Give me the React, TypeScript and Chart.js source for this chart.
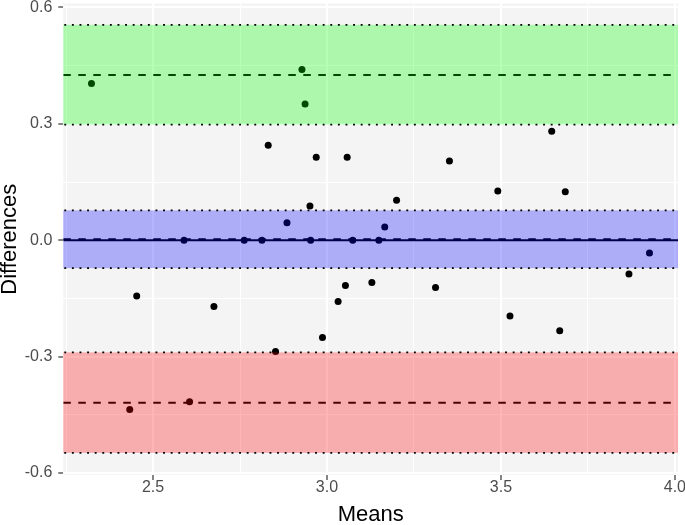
import React, { useEffect, useRef } from "react";
import { Chart, registerables } from "chart.js";

Chart.register(...registerables);

// ---- data ----
const MEANS = [
  2.323, 2.928, 2.937, 2.453, 2.589, 2.675, 2.762, 2.813, 2.831, 2.885, 2.852,
  2.951, 2.953, 2.969, 2.987, 3.032, 3.053, 3.058, 3.074, 3.129, 3.149, 3.166,
  3.2, 3.312, 3.352, 3.491, 3.526, 3.646, 3.669, 3.685, 3.868, 3.927, 2.433,
  2.605,
];
const DIFFERENCES = [
  0.404, 0.44, 0.351, -0.144, 0, -0.171, 0, 0, 0.245, 0.045, -0.287, 0.088, 0,
  0.214, -0.251, -0.158, -0.117, 0.214, 0, -0.109, 0, 0.034, 0.103, -0.122,
  0.204, 0.127, -0.195, 0.281, -0.233, 0.125, -0.087, -0.033, -0.436, -0.416,
];

// bias and limits of agreement (dashed), zero reference (solid)
const DASHED_LINES = [0.4255, 0.0025, -0.419];
const ZERO_LINE = 0;
// confidence bands: upper LoA, mean, lower LoA
const CI_LOWER = [0.298, -0.072, -0.548];
const CI_UPPER = [0.555, 0.077, -0.289];

const X_MIN = 2.242;
const X_MAX = 4.009;
const Y_MIN = -0.605;
const Y_MAX = 0.61;
const X_TICKS = [2.25, 2.5, 2.75, 3, 3.25, 3.5, 3.75, 4];
const X_LABELED = [2.5, 3, 3.5, 4];
const Y_TICKS = [-0.6, -0.45, -0.3, -0.15, 0, 0.15, 0.3, 0.45, 0.6];
const Y_LABELED = [-0.6, -0.3, 0, 0.3, 0.6];

const X_TITLE = "Means";
const Y_TITLE = "Differences";

// ---- styles ----
const BAND_FILLS = [
  "rgba(0,255,0,0.29)",
  "rgba(0,0,255,0.29)",
  "rgba(255,0,0,0.29)",
];
const PANEL_BG = "#F4F4F4";
const FONT = "'Liberation Sans', Arial, Helvetica, sans-serif";

const isIn = (v: number, list: number[]) =>
  list.some((t) => Math.abs(t - v) < 1e-6);

export default function App() {
  const ref = useRef<HTMLCanvasElement>(null);

  useEffect(() => {
    const canvas = ref.current;
    if (!canvas) return;

    const bgPlugin = {
      id: "panelBg",
      beforeDraw(chart: any) {
        const { ctx, chartArea: a } = chart;
        ctx.save();
        ctx.fillStyle = PANEL_BG;
        ctx.fillRect(a.left, a.top, a.right - a.left, a.bottom - a.top);
        ctx.restore();
      },
    };

    const bandPlugin = {
      id: "bands",
      afterDatasetsDraw(chart: any) {
        const { ctx, chartArea: a } = chart;
        const y = chart.scales.y;
        ctx.save();
        CI_UPPER.forEach((hi, i) => {
          const y1 = y.getPixelForValue(hi);
          const y2 = y.getPixelForValue(CI_LOWER[i]);
          ctx.fillStyle = BAND_FILLS[i];
          ctx.fillRect(a.left, y1, a.right - a.left, y2 - y1);
        });
        ctx.strokeStyle = "#000";
        ctx.lineWidth = 1.9;
        ctx.setLineDash([1.9, 5.7]);
        [...CI_UPPER, ...CI_LOWER].forEach((v) => {
          const py = y.getPixelForValue(v);
          ctx.beginPath();
          ctx.moveTo(a.left + 1, py);
          ctx.lineTo(a.right, py);
          ctx.stroke();
        });
        ctx.restore();
      },
    };

    const hline = (v: number, dashed: boolean) => ({
      type: "scatter" as const,
      data: [
        { x: X_MIN, y: v },
        { x: X_MAX, y: v },
      ],
      showLine: true,
      borderColor: "#000",
      borderWidth: 2,
      borderDash: dashed ? [7.5, 7.5] : [],
      pointRadius: 0,
      pointHoverRadius: 0,
      fill: false,
    });

    const chart = new Chart(canvas, {
      type: "scatter",
      data: {
        datasets: [
          {
            data: MEANS.map((m, i) => ({ x: m, y: DIFFERENCES[i] })),
            pointRadius: 3.5,
            pointHoverRadius: 3.5,
            pointBackgroundColor: "#000",
            pointBorderWidth: 0,
            borderWidth: 0,
          },
          ...DASHED_LINES.map((v) => hline(v, true)),
          hline(ZERO_LINE, false),
        ] as any,
      },
      options: {
        responsive: false,
        animation: false,
        events: [],
        layout: { padding: { top: 2, right: 7, left: 0, bottom: 0 } },
        plugins: {
          legend: { display: false },
          tooltip: { enabled: false },
        },
        scales: {
          x: {
            type: "linear",
            min: X_MIN,
            max: X_MAX,
            afterBuildTicks: (s: any) => {
              s.ticks = X_TICKS.map((v) => ({ value: v }));
            },
            afterFit: (s: any) => {
              s.height = 50;
              s.paddingLeft = 0;
              s.paddingRight = 0;
            },
            border: { display: false },
            grid: {
              color: "#FFFFFF",
              lineWidth: (c: any) =>
                c.tick && isIn(c.tick.value, X_LABELED) ? 2 : 1,
              tickColor: (c: any) =>
                c.tick && isIn(c.tick.value, X_LABELED)
                  ? "#333333"
                  : "rgba(0,0,0,0)",
              tickLength: 5,
              tickWidth: 1.2,
              drawOnChartArea: true,
            },
            ticks: {
              autoSkip: false,
              maxRotation: 0,
              padding: 0,
              color: "#4D4D4D",
              font: { family: FONT, size: 16, lineHeight: 1 },
              callback: (v: any) =>
                isIn(Number(v), X_LABELED) ? Number(v).toFixed(1) : "",
            },
            title: {
              display: true,
              text: X_TITLE,
              color: "#000",
              padding: 0,
              font: { family: FONT, size: 22, lineHeight: 0.9 },
            },
          },
          y: {
            type: "linear",
            min: Y_MIN,
            max: Y_MAX,
            afterBuildTicks: (s: any) => {
              s.ticks = Y_TICKS.map((v) => ({ value: v }));
            },
            afterFit: (s: any) => {
              s.width = 63.3;
              s.paddingTop = 0;
              s.paddingBottom = 0;
            },
            border: { display: false },
            grid: {
              color: "#FFFFFF",
              lineWidth: (c: any) =>
                c.tick && isIn(c.tick.value, Y_LABELED) ? 2 : 1,
              tickColor: (c: any) =>
                c.tick && isIn(c.tick.value, Y_LABELED)
                  ? "#333333"
                  : "rgba(0,0,0,0)",
              tickLength: 5,
              tickWidth: 1.2,
              drawOnChartArea: true,
            },
            ticks: {
              autoSkip: false,
              padding: 6,
              color: "#4D4D4D",
              font: { family: FONT, size: 16, lineHeight: 1 },
              callback: (v: any) =>
                isIn(Number(v), Y_LABELED) ? Number(v).toFixed(1) : "",
            },
            title: {
              display: true,
              text: Y_TITLE,
              color: "#000",
              padding: 0,
              font: { family: FONT, size: 22, lineHeight: 0.9 },
            },
          },
        },
      },
      plugins: [bgPlugin, bandPlugin],
    } as any);

    return () => chart.destroy();
  }, []);

  return (
    <div
      style={{
        position: "fixed",
        left: 0,
        top: 0,
        width: 685,
        height: 525,
        background: "#FFFFFF",
      }}
    >
      <canvas
        ref={ref}
        width={685}
        height={525}
        style={{ display: "block", width: 685, height: 525 }}
      />
    </div>
  );
}
